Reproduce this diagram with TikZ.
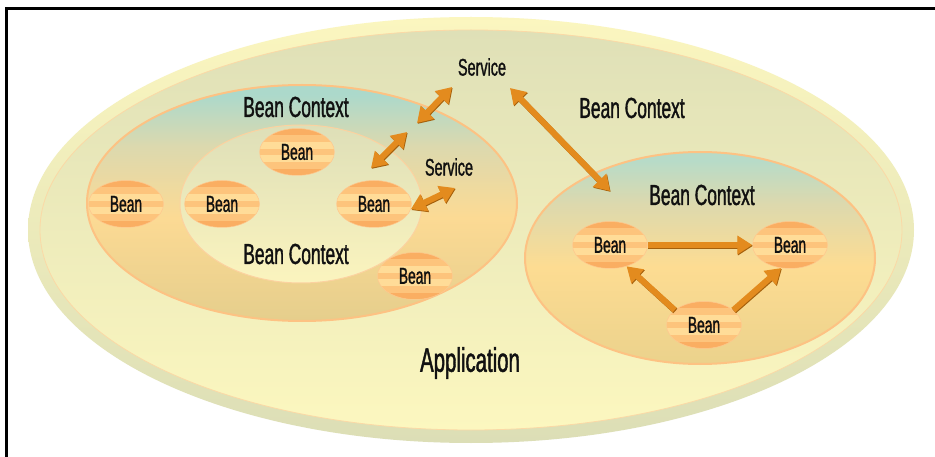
\documentclass[tikz,border=0pt]{standalone}
\usepackage{fontspec}
\setmainfont{Liberation Sans}[FakeStretch=0.6,FakeBold=1.2]
\usetikzlibrary{shapes.geometric,arrows.meta,calc}

\definecolor{appOutTop}{HTML}{FBF6BF}
\definecolor{appOutBot}{HTML}{DCDEB6}
\definecolor{appInTop}{HTML}{DFE0B7}
\definecolor{appInBot}{HTML}{FCF7BF}
\definecolor{appEdge}{HTML}{FBD9A6}
\definecolor{ctxTop}{HTML}{ACD9CB}
\definecolor{ctxBeige}{HTML}{DCD9AE}
\definecolor{ctxMid}{HTML}{FCDA94}
\definecolor{ctxBot}{HTML}{E5CE8C}
\definecolor{ctxEdge}{HTML}{FDC283}
\definecolor{innTop}{HTML}{DEDFB8}
\definecolor{innBot}{HTML}{FBF4BE}
\definecolor{innEdge}{HTML}{FCD2A0}
\definecolor{rctTop}{HTML}{B7DBC8}
\definecolor{rctMid}{HTML}{FDDC92}
\definecolor{rctBot}{HTML}{EBD28C}
\definecolor{bA}{HTML}{FAAE62}
\definecolor{bB}{HTML}{FDC47C}
\definecolor{bC}{HTML}{FFDC98}
\definecolor{beanEdge}{HTML}{FFC88F}
\definecolor{arrowC}{HTML}{E38B1E}
\definecolor{shadowC}{HTML}{A5600C}
\definecolor{txt}{HTML}{111111}

\pgfdeclareverticalshading{ctxshade}{100bp}{color(0bp)=(ctxBot); color(25bp)=(ctxBot); color(47bp)=(ctxMid); color(62bp)=(ctxBeige); color(73bp)=(ctxTop); color(100bp)=(ctxTop)}
\pgfdeclareverticalshading{rctshade}{100bp}{color(0bp)=(rctBot); color(25bp)=(rctBot); color(48bp)=(rctMid); color(63bp)=(ctxBeige); color(73bp)=(rctTop); color(100bp)=(rctTop)}

\newcommand\ctxfont{\fontsize{29}{31}\selectfont}
\newcommand\beanfont{\fontsize{23}{25}\selectfont}
\newcommand\svcfont{\fontsize{24}{26}\selectfont}
\newcommand\appfont{\fontsize{34}{36}\selectfont}

\tikzset{
  bean/.style={ellipse, minimum width=75pt, minimum height=47pt, inner sep=0pt,
    draw=beanEdge, line width=0.5pt, font=\beanfont, text=txt,
    path picture={
      \foreach \c [count=\i from 0] in {bA,bB,bC,bB,bC,bB,bA}
        \fill[\c] ($(path picture bounding box.north west)!{\i/7}!(path picture bounding box.south west)$)
          rectangle ($(path picture bounding box.north east)!{(\i+1)/7}!(path picture bounding box.south east)$);
    }},
  lbl/.style={inner sep=0pt, text=txt},
  fat/.style={line width=6pt},
  onehead/.style={-{Triangle[length=15pt,width=18pt]}},
  twohead/.style={{Triangle[length=15pt,width=18pt]}-{Triangle[length=15pt,width=18pt]}},
  shade1/.style={shadowC, transform canvas={shift={(0.7pt,-0.9pt)}}},
}

\newcommand\fatarrow[3]{%
  \draw[fat,#1,shade1] #2 -- #3;
  \draw[fat,#1,arrowC] #2 -- #3;
}

\begin{document}
\begin{tikzpicture}[x=1pt,y=-1pt]
\useasboundingbox (0,0) rectangle (935,457);
\fill[white] (0,0) rectangle (935,457);

% frame
\draw[line width=2.5pt, line join=miter] (6.5,457) -- (6.5,8.5) -- (935,8.5);

% application
\shade[top color=appOutTop, bottom color=appOutBot] (471,230) ellipse [x radius=443pt, y radius=213pt];
\shadedraw[top color=appInTop, bottom color=appInBot, draw=appEdge, line width=0.8pt] (471,230) ellipse [x radius=431pt, y radius=200pt];

% left bean context
\shadedraw[shading=ctxshade, draw=ctxEdge, line width=2pt] (302,203) ellipse [x radius=215pt, y radius=118pt];
% inner bean context
\shadedraw[top color=innTop, bottom color=innBot, draw=innEdge, line width=1pt] (301,204) ellipse [x radius=121pt, y radius=79pt];
% right bean context
\shadedraw[shading=rctshade, draw=ctxEdge, line width=2pt] (700,258) ellipse [x radius=175pt, y radius=106pt];

% labels
\node[lbl, font=\ctxfont] (lctx) at (296,107) {Bean Context};
\node[lbl, font=\ctxfont] (ictx) at (296,254) {Bean Context};
\node[lbl, font=\ctxfont] (actx) at (632,108) {Bean Context};
\node[lbl, font=\ctxfont] (rctx) at (702,195) {Bean Context};
\node[lbl, font=\appfont] (app) at (470,363) {Application};
\node[lbl, font=\svcfont] (svc1) at (482,67) {Service};
\node[lbl, font=\svcfont] (svc2) at (449,167) {Service};

% beans
\node[bean] (b1) at (126,204) {Bean};
\node[bean] (b2) at (222,204) {Bean};
\node[bean] (b3) at (297,152) {Bean};
\node[bean] (b4) at (374,204) {Bean};
\node[bean] (b5) at (415,276) {Bean};
\node[bean] (b6) at (610,245) {Bean};
\node[bean] (b7) at (790,245) {Bean};
\node[bean] (b8) at (704,325) {Bean};

% arrow end points
\coordinate (p1a) at (452,87);
\coordinate (p1b) at (417,123);
\coordinate (p2a) at (407,132);
\coordinate (p2b) at (371,168);
\coordinate (p3b) at (455,188);
\coordinate (p4a) at (510,88);
\coordinate (p4b) at (610,191);

% arrows
\fatarrow{twohead}{(p1a)}{(p1b)}
\fatarrow{twohead}{(p2a)}{(p2b)}
\fatarrow{twohead}{(b4.-8)}{(p3b)}
\fatarrow{twohead}{(p4a)}{(p4b)}
\fatarrow{onehead}{(b6.east)}{(b7.west)}
\fatarrow{onehead}{(b8.153)}{(b6.-52)}
\fatarrow{onehead}{(b8.27)}{(b7.-111)}
\end{tikzpicture}
\end{document}
